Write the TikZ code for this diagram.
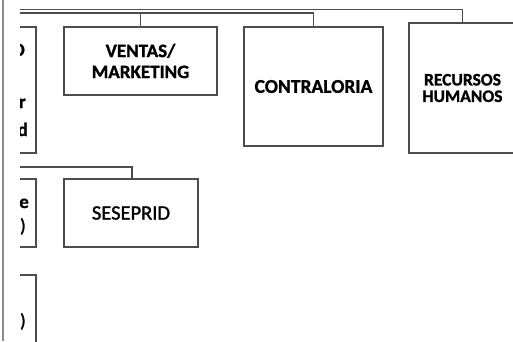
\documentclass[tikz,border=0pt]{standalone}
\usepackage{fontspec}
\setmainfont{Carlito}[BoldFeatures={FakeBold=1.2}]
\newfontfamily\medfont{Carlito}[FakeBold=1.4]
\begin{document}
\begin{tikzpicture}[x=1pt,y=-1pt,
  line/.style={draw=black!70,line width=1.7pt},
  unit/.style={draw=black!70,line width=1.7pt,fill=white,inner sep=0pt,
    align=center,font=\bfseries\fontsize{19}{21}\selectfont},
  frag/.style={inner sep=0pt,font=\bfseries\fontsize{19}{21}\selectfont,anchor=base east}]
\useasboundingbox (0,0) rectangle (513,341);
\fill[white] (0,0) rectangle (513,341);
% page margin rule
\draw[black!45,line width=2pt] (2.5,0) -- (2.5,341);
\begin{scope}
\clip (20,0) rectangle (513,341);
% first level units
\node[unit,minimum width=96pt,minimum height=126pt] (izq) at (-12,90) {};
\node[unit,minimum width=153pt,minimum height=68pt] (ventas) at (140.5,61) {VENTAS/\\MARKETING};
\node[unit,minimum width=139pt,minimum height=119pt,font=\bfseries\fontsize{19.5}{22}\selectfont] (contra) at (313.5,86.5) {CONTRALORIA};
\node[unit,minimum width=107pt,minimum height=130pt,font=\bfseries\fontsize{17.5}{16.5}\selectfont] (rh) at (462.5,88) {RECURSOS\\HUMANOS};
% second level units
\node[unit,minimum width=96pt,minimum height=68pt] (izqb) at (-12,213) {};
\node[unit,minimum width=134pt,minimum height=68pt,font=\medfont\fontsize{20.5}{24}\selectfont] (sese) at (131,213) {SESEPRID};
\node[unit,minimum width=96pt,minimum height=120pt] (izqc) at (-12,335) {};
% cut-off labels of the left column
\node[frag] (t1) at (25,56) {O};
\node[frag] (t2) at (26,108) {r};
\node[frag] (t3) at (28,136) {d};
\node[frag] (t4) at (29,208) {e};
\node[frag,font=\medfont\fontsize{19}{21}\selectfont] (t5) at (26,232) {)};
\node[frag,font=\medfont\fontsize{19}{21}\selectfont] (t6) at (26,327) {)};
% connectors
\coordinate (bus1) at (0,9.5);
\coordinate (bus2) at (0,13);
\coordinate (bus3) at (0,167);
\draw[line] (bus1) -| (rh.north);
\draw[line] (bus2) -| (contra.north);
\draw[line] (ventas.north) -- (ventas.north |- bus2);
\draw[line] (bus3) -| ([xshift=1pt]sese.north);
\end{scope}
\end{tikzpicture}
\end{document}
